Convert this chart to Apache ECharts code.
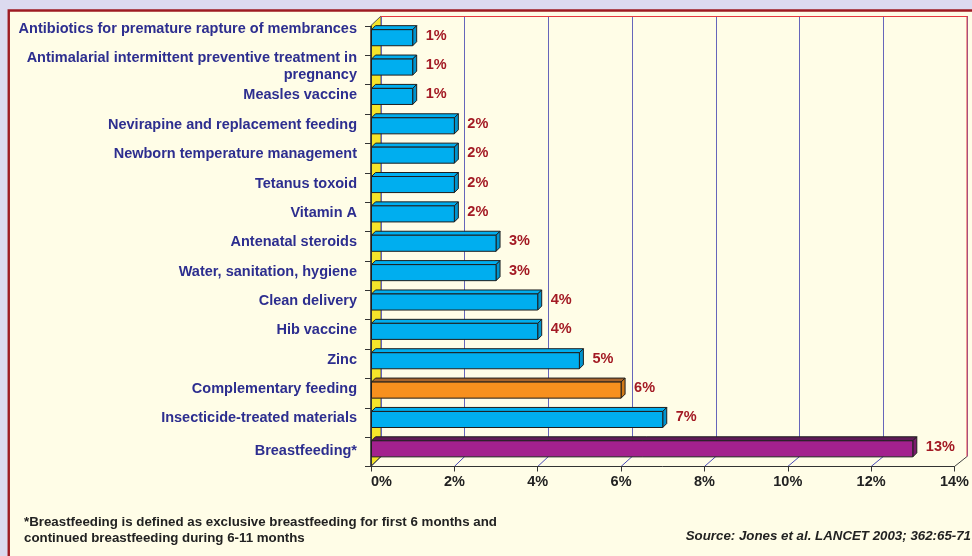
<!DOCTYPE html>
<html><head><meta charset="utf-8">
<script src="https://cdn.jsdelivr.net/npm/echarts/dist/echarts.min.js"></script>
<style>html,body{margin:0;padding:0;background:#DCDAEF}#c{width:972px;height:556px}</style>
</head><body><div id="c"></div>
<script>
// ---- data ----
const categories = [
  'Antibiotics for premature rapture of membrances',
  'Antimalarial intermittent preventive treatment in\npregnancy',
  'Measles vaccine',
  'Nevirapine and replacement feeding',
  'Newborn temperature management',
  'Tetanus toxoid',
  'Vitamin A',
  'Antenatal steroids',
  'Water, sanitation, hygiene',
  'Clean delivery',
  'Hib vaccine',
  'Zinc',
  'Complementary feeding',
  'Insecticide-treated materials',
  'Breastfeeding*'
];
const values = [1, 1, 1, 2, 2, 2, 2, 3, 3, 4, 4, 5, 6, 7, 13];
const xMin = 0, xMax = 14, xStep = 2;
const footnoteLines = [
  '*Breastfeeding is defined as exclusive breastfeeding for first 6 months and',
  'continued breastfeeding during 6-11 months'
];
const sourceText = 'Source: Jones et al. LANCET 2003; 362:65-71';

// ---- styles / layout ----
const FONT = 'Arial, "Liberation Sans", sans-serif';
const D = 10; // depth of 3D box
const LABEL_SHIFT = 4;
const front = {left: 371, right: 15, top: 26, bottom: 89.5};
const back = {left: front.left + D, right: front.right - D, top: front.top - D, bottom: front.bottom + D};
const labelGrid = {left: front.left, right: front.right, top: front.top - LABEL_SHIFT, bottom: front.bottom + LABEL_SHIFT};
const palette = {
  def: {front: '#00AEEF', top: '#00AEEF', side: '#0094CF'},
  'Complementary feeding': {front: '#F7901E', top: '#A8652C', side: '#D27A18'},
  'Breastfeeding*': {front: '#A3218E', top: '#5E1A56', side: '#7A1A6C'}
};
const catLabelStyle = {color: '#2D2E8F', fontWeight: 'bold', fontSize: 14.5, lineHeight: 17, fontFamily: FONT};

const chart = echarts.init(document.getElementById('c'), null, {renderer: 'canvas'});

function renderBar(params, api) {
  const v = api.value(0), ci = api.value(1);
  const base = api.coord([0, ci]);
  const end = api.coord([v, ci]);
  const band = api.size([0, 1])[1];
  const yBot = base[1] + band * 0.172;
  const yTop = base[1] - band * 0.375;
  const d = 4;
  const x0 = base[0] + 0.5, x1 = end[0];
  const c = palette[categories[ci]] || palette.def;
  const st = {stroke: '#1E1E1E', lineWidth: 1};
  return {type: 'group', children: [
    {type: 'polygon', shape: {points: [[x0, yTop], [x0 + d, yTop - d], [x1 + d, yTop - d], [x1, yTop]]}, style: Object.assign({fill: c.top}, st)},
    {type: 'polygon', shape: {points: [[x1, yTop], [x1 + d, yTop - d], [x1 + d, yBot - d], [x1, yBot]]}, style: Object.assign({fill: c.side}, st)},
    {type: 'rect', shape: {x: x0, y: yTop, width: x1 - x0, height: yBot - yTop}, style: Object.assign({fill: c.front}, st)},
    {type: 'text', style: {text: v + '%', x: x1 + d + 9, y: (yTop - d + yBot) / 2, fill: '#A31A24', font: 'bold 14.5px ' + FONT, verticalAlign: 'middle', align: 'left'}}
  ]};
}

const lastIdx = categories.length - 1;
const option = {
  backgroundColor: '#DCDAEF',
  animation: false,
  textStyle: {fontFamily: FONT},
  grid: [
    Object.assign({containLabel: false}, front),
    Object.assign({containLabel: false}, back),
    Object.assign({containLabel: false}, labelGrid)
  ],
  xAxis: [
    {gridIndex: 0, type: 'value', min: xMin, max: xMax, interval: xStep,
      axisLine: {show: true, lineStyle: {color: '#333', width: 1}},
      axisTick: {show: true, length: 5, lineStyle: {color: '#333'}},
      splitLine: {show: false},
      axisLabel: {formatter: '{value}%', color: '#222', fontWeight: 'bold', fontSize: 14.5, margin: 8, alignMinLabel: 'left'}},
    {gridIndex: 1, type: 'value', min: xMin, max: xMax, interval: xStep, position: 'top',
      axisLine: {show: true, lineStyle: {color: '#E5393F', width: 1}},
      axisTick: {show: false}, axisLabel: {show: false},
      splitLine: {show: true, lineStyle: {width: 1, color: '#6666BA'}}},
    {gridIndex: 2, type: 'value', min: xMin, max: xMax, show: false}
  ],
  yAxis: [
    {gridIndex: 0, type: 'category', inverse: true, data: categories,
      axisLine: {show: true, lineStyle: {color: '#333'}},
      axisTick: {show: true, length: 6, lineStyle: {color: '#333'}},
      axisLabel: {show: false}},
    {gridIndex: 1, type: 'category', inverse: true, data: categories, show: false},
    {gridIndex: 2, type: 'category', inverse: true, data: categories,
      axisLine: {show: false}, axisTick: {show: false},
      axisLabel: Object.assign({interval: 0, margin: 14, align: 'right',
        formatter: (val, idx) => idx === 0 ? '{f|' + val + '}' : (idx === lastIdx ? '{l|' + val + '}' : val),
        rich: {
          f: Object.assign({padding: [0, 0, 16, 0]}, catLabelStyle),
          l: Object.assign({padding: [7, 0, 0, 0]}, catLabelStyle)
        }}, catLabelStyle)}
  ],
  series: [{
    type: 'custom', xAxisIndex: 0, yAxisIndex: 0, z: 5,
    renderItem: renderBar,
    encode: {x: 0, y: 1},
    data: values.map((v, i) => [v, i])
  }]
};
chart.setOption(option);

// decorations: panel, left wall, floor lines, back-wall right edge, footnotes
const fx = v => chart.convertToPixel({xAxisIndex: 0}, v);
const bx = v => chart.convertToPixel({xAxisIndex: 1}, v);
const H = 556;
const fTop = front.top, fBot = H - front.bottom, bTop = back.top, bBot = H - back.bottom;
const floorLines = [];
for (let v = xMin; v <= xMax; v += xStep) {
  const inner = v > xMin && v < xMax;
  floorLines.push({type: 'line', z: -1, shape: {x1: fx(v), y1: fBot, x2: bx(v), y2: bBot},
    style: {stroke: inner ? '#4A4AB5' : '#444', lineWidth: 1}});
}
chart.setOption({graphic: [
  {type: 'rect', z: -10, shape: {x: 8.75, y: 10.5, width: 1200, height: 800},
    style: {fill: '#FFFDE7', stroke: '#9E1B22', lineWidth: 2.4}},
  {type: 'polygon', z: -1, shape: {points: [[front.left - 0.5, fTop], [bx(xMin), bTop], [bx(xMin), bBot], [front.left - 0.5, fBot]]},
    style: {fill: '#F6E42A', stroke: '#555', lineWidth: 1}},
  ...floorLines,
  {type: 'line', z: 3, shape: {x1: bx(xMax), y1: bTop, x2: bx(xMax), y2: bBot}, style: {stroke: '#E5393F', lineWidth: 1}},
  {type: 'text', z: 1, style: {text: footnoteLines.join('\n'), x: 24, y: 514, fill: '#222', font: 'bold 13.3px ' + FONT, lineHeight: 16}},
  {type: 'text', z: 1, style: {text: sourceText, x: 971, y: 536, fill: '#222', font: 'italic bold 13.3px ' + FONT, align: 'right', verticalAlign: 'middle'}}
]});
</script>
</body></html>
